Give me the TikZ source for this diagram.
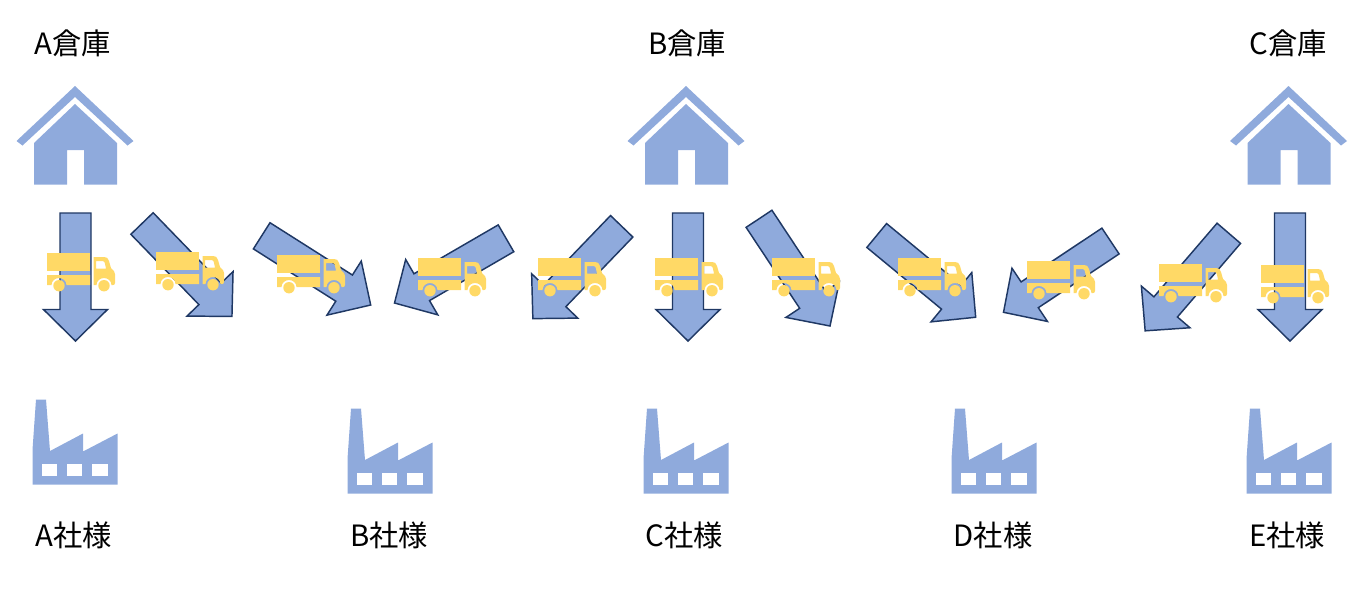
\documentclass[tikz,border=0pt]{standalone}
\usepackage{fontspec}
\setmainfont{Noto Sans CJK JP}
\definecolor{bluefill}{HTML}{8FAADC}
\definecolor{blueline}{HTML}{1F3864}
\definecolor{truckfill}{HTML}{FFD966}
\tikzset{
  blockarrow/.style={fill=bluefill,draw=blueline,line width=1.1pt,line join=miter},
  iconshape/.style={fill=bluefill,draw=none},
  hole/.style={fill=white,draw=none},
  truckshape/.style={fill=truckfill,draw=none},
  place/.style={font=\fontsize{22}{26}\selectfont,inner sep=0pt,text=black}
}
% tail x,y ; tip x,y
\newcommand{\flowarrow}[4]{%
  \pgfmathsetmacro{\arang}{atan2(-(#4-#2),#3-#1)}%
  \pgfmathsetmacro{\arlen}{veclen(#3-#1,#4-#2)}%
  \begin{scope}[shift={(#1,#2)},rotate=\arang]
    \draw[blockarrow] (0,-15.5) -- (\arlen-31.5,-15.5) -- (\arlen-31.5,-32) -- (\arlen,0)
      -- (\arlen-31.5,32) -- (\arlen-31.5,15.5) -- (0,15.5) -- cycle;
  \end{scope}}
% cargo top-left x,y
\newcommand{\lorry}[2]{%
  \begin{scope}[shift={(#1-47,#2-253)}]
    \fill[truckshape] (47,253) rectangle (90,271);
    \fill[truckshape] (47,275) -- (90,275) -- (90,285) -- (66.5,285)
      .. controls (66.5,281) and (63,278) .. (59,278) .. controls (55,278) and (51.5,281) .. (51.5,285)
      -- (47,285) -- cycle;
    \fill[truckshape,even odd rule] (93.5,257) -- (104,257) .. controls (107,257) and (108,258) .. (109,261)
      -- (111,268) -- (114,271) .. controls (115,272) and (115,273) .. (115,274) -- (115,283)
      .. controls (115,284.5) and (114,285) .. (113,285) -- (111.5,285)
      .. controls (111.5,281) and (108,278) .. (104,278) .. controls (100,278) and (96.5,281) .. (96.5,285)
      -- (93.5,285) -- cycle
      (96,261) -- (103,261) .. controls (104,261) and (104.5,261.5) .. (104.7,262.5) -- (106,268.5) -- (96,268.5) -- cycle;
    \fill[truckshape] (59,285.7) circle (5.7);
    \fill[truckshape] (104,285.7) circle (5.7);
  \end{scope}}
% centre x
\newcommand{\depot}[1]{%
  \begin{scope}[shift={(#1-75,0)}]
    \fill[iconshape] (75,86) -- (133.5,141) -- (127.5,145.5) -- (75,97) -- (22.5,145.5) -- (16.5,141) -- cycle;
    \fill[iconshape] (75,104) -- (117,143) -- (117,184.5) -- (84,184.5) -- (84,150) -- (67,150) -- (67,184.5) -- (34,184.5) -- (34,143) -- cycle;
  \end{scope}}
% left x, bottom y
\newcommand{\plant}[2]{%
  \begin{scope}[shift={(#1-33,#2-484)}]
    \fill[iconshape] (32.7,484.5) -- (32.7,447) -- (36,399.5) -- (46,399.5) -- (50,451) -- (83,433.5) -- (83,451) -- (84,451) -- (117.5,433.5) -- (117.5,484.5) -- cycle;
    \fill[hole] (42,464) rectangle (57,476);
    \fill[hole] (67,464) rectangle (82,476);
    \fill[hole] (92,464) rectangle (107.5,476);
  \end{scope}}
\begin{document}
\begin{tikzpicture}[x=0.75pt,y=-0.75pt]
\useasboundingbox (0,0) rectangle (1360,590);
\node[place] (w1) at (73,43) {A倉庫};
\node[place] (w2) at (687,43) {B倉庫};
\node[place] (w3) at (1288,43) {C倉庫};
\depot{75}\depot{686}\depot{1288.5}
\flowarrow{75.5}{213}{75.5}{341}
\flowarrow{142}{223.5}{232}{316.5}
\flowarrow{261.7}{235.8}{370.7}{305}
\flowarrow{506}{238.3}{394.5}{303}
\flowarrow{621.7}{226.3}{532.5}{319}
\flowarrow{688}{213}{688}{341}
\flowarrow{759}{218.8}{830}{326}
\flowarrow{876.7}{235.5}{976}{317.5}
\flowarrow{1110.5}{241}{1003.5}{312.3}
\flowarrow{1228.8}{233.3}{1145}{331}
\flowarrow{1290}{213}{1290}{341}
\lorry{47}{253}\lorry{156}{252}\lorry{277}{255}\lorry{418}{258}\lorry{538}{258}
\lorry{655}{258}\lorry{772}{258}\lorry{898}{258}\lorry{1027}{261}\lorry{1159}{264}\lorry{1261}{265}
\plant{33}{484}\plant{348}{493}\plant{644}{493}\plant{952}{493}\plant{1247}{493}
\node[place] (c1) at (74,535) {A社様};
\node[place] (c2) at (389,535) {B社様};
\node[place] (c3) at (684,535) {C社様};
\node[place] (c4) at (993,535) {D社様};
\node[place] (c5) at (1287,535) {E社様};
\end{tikzpicture}
\end{document}
